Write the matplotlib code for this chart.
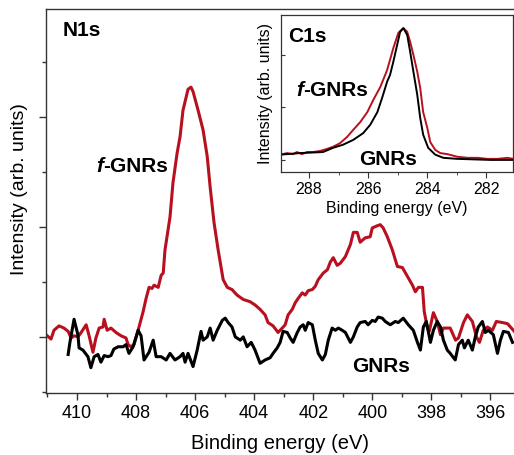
import matplotlib
matplotlib.use("Agg")
import matplotlib.pyplot as plt
from matplotlib.ticker import MultipleLocator

plt.rcParams['font.family'] = ['Liberation Sans', 'DejaVu Sans']

# N1s spectra (binding energy in eV, intensity in arb. units)
n1s_fgnr_ev = [411.05, 410.88, 410.78, 410.61, 410.44, 410.30, 410.20, 410.10, 409.97, 409.86,
               409.69, 409.59, 409.46, 409.36, 409.25, 409.12, 409.08, 408.98, 408.85, 408.68,
               408.51, 408.34, 408.27, 408.17, 408.07, 407.93, 407.76, 407.66, 407.56, 407.46,
               407.39, 407.25, 407.15, 407.08, 407.02, 406.85, 406.75, 406.61, 406.51, 406.41,
               406.24, 406.14, 406.07, 405.90, 405.73, 405.59, 405.49, 405.36, 405.22, 405.05,
               404.91, 404.75, 404.58, 404.37, 404.14, 403.97, 403.80, 403.63, 403.53, 403.36,
               403.19, 403.05, 402.95, 402.85, 402.71, 402.61, 402.51, 402.37, 402.27, 402.17,
               402.03, 401.93, 401.83, 401.66, 401.52, 401.42, 401.32, 401.19, 401.08, 400.91,
               400.74, 400.64, 400.51, 400.41, 400.24, 400.07, 400.00, 399.83, 399.73, 399.63,
               399.49, 399.32, 399.15, 398.98, 398.81, 398.64, 398.54, 398.44, 398.30, 398.24,
               398.14, 398.07, 397.93, 397.80, 397.69, 397.59, 397.36, 397.18, 397.08, 396.91,
               396.78, 396.61, 396.47, 396.37, 396.24, 396.10, 395.93, 395.80, 395.59, 395.42,
               395.19]
n1s_fgnr_int = [0.02, -0.02, 0.06, 0.10, 0.08, 0.05, -0.01, 0.01, 0.00, 0.04,
                0.11, 0.01, -0.14, -0.01, 0.08, 0.09, 0.16, 0.06, 0.08, 0.04,
                0.01, -0.01, -0.07, -0.09, -0.07, 0.06, 0.23, 0.35, 0.45, 0.44,
                0.47, 0.45, 0.56, 0.58, 0.79, 1.09, 1.40, 1.67, 1.82, 2.06,
                2.25, 2.27, 2.23, 2.06, 1.88, 1.64, 1.36, 1.04, 0.79, 0.52,
                0.45, 0.43, 0.38, 0.34, 0.32, 0.29, 0.25, 0.20, 0.13, 0.10,
                0.04, 0.08, 0.11, 0.20, 0.25, 0.31, 0.35, 0.40, 0.38, 0.42,
                0.43, 0.46, 0.52, 0.58, 0.61, 0.68, 0.72, 0.65, 0.67, 0.73,
                0.84, 0.95, 0.95, 0.86, 0.90, 0.91, 0.99, 1.01, 1.02, 0.99,
                0.91, 0.79, 0.64, 0.63, 0.55, 0.47, 0.41, 0.45, 0.45, 0.23,
                0.09, 0.05, 0.22, 0.14, 0.02, 0.08, 0.08, -0.03, -0.01, 0.13,
                0.20, 0.14, 0.00, -0.05, 0.06, 0.09, 0.06, 0.14, 0.13, 0.12,
                0.05]

n1s_gnr_ev = [410.30, 410.24, 410.10, 409.97, 409.93, 409.80, 409.63, 409.53, 409.42, 409.29,
              409.19, 409.08, 408.95, 408.85, 408.75, 408.61, 408.44, 408.34, 408.24, 408.10,
              407.93, 407.83, 407.73, 407.56, 407.42, 407.32, 407.15, 406.98, 406.85, 406.68,
              406.51, 406.41, 406.34, 406.24, 406.07, 405.93, 405.80, 405.73, 405.59, 405.49,
              405.39, 405.25, 405.08, 404.98, 404.88, 404.75, 404.64, 404.47, 404.37, 404.24,
              404.10, 403.97, 403.80, 403.63, 403.46, 403.36, 403.22, 403.12, 403.02, 402.88,
              402.78, 402.68, 402.54, 402.44, 402.34, 402.27, 402.17, 402.03, 401.93, 401.83,
              401.69, 401.59, 401.49, 401.36, 401.25, 401.15, 401.02, 400.91, 400.74, 400.64,
              400.51, 400.41, 400.24, 400.14, 400.00, 399.90, 399.80, 399.66, 399.56, 399.39,
              399.22, 399.12, 398.95, 398.78, 398.61, 398.47, 398.37, 398.27, 398.17, 398.03,
              397.93, 397.80, 397.69, 397.59, 397.46, 397.36, 397.19, 397.08, 396.95, 396.88,
              396.75, 396.61, 396.51, 396.41, 396.27, 396.17, 396.07, 395.90, 395.76, 395.66,
              395.56, 395.39, 395.25]
n1s_gnr_int = [-0.16, -0.05, 0.16, 0.02, -0.10, -0.12, -0.18, -0.28, -0.18, -0.16,
               -0.23, -0.17, -0.18, -0.17, -0.11, -0.09, -0.09, -0.07, -0.15, -0.09,
               0.06, 0.01, -0.21, -0.14, -0.03, -0.18, -0.18, -0.21, -0.15, -0.21,
               -0.18, -0.15, -0.23, -0.15, -0.27, -0.12, 0.05, -0.03, 0.00, 0.08,
               -0.03, 0.06, 0.15, 0.17, 0.13, 0.09, 0.00, -0.03, 0.00, -0.09,
               -0.05, -0.12, -0.24, -0.21, -0.19, -0.15, -0.10, -0.05, 0.05, 0.04,
               -0.01, -0.05, 0.04, 0.09, 0.11, 0.06, 0.13, 0.11, -0.03, -0.15,
               -0.21, -0.16, -0.03, 0.08, 0.06, 0.08, 0.06, 0.04, -0.05, 0.00,
               0.09, 0.13, 0.14, 0.11, 0.15, 0.14, 0.18, 0.17, 0.14, 0.11,
               0.14, 0.13, 0.17, 0.11, 0.06, -0.05, -0.12, 0.09, 0.14, -0.05,
               0.06, 0.14, 0.09, -0.03, -0.12, -0.15, -0.21, -0.07, -0.03, -0.10,
               -0.03, -0.12, 0.00, 0.09, 0.14, 0.04, 0.06, 0.02, -0.15, -0.03,
               0.05, 0.04, -0.05]

# C1s spectra (inset)
c1s_fgnr_ev = [288.98, 288.74, 288.54, 288.41, 288.24, 288.07, 287.86, 287.63, 287.39, 287.19,
               286.95, 286.71, 286.51, 286.27, 286.03, 285.83, 285.59, 285.36, 285.15, 284.98,
               284.81, 284.68, 284.58, 284.47, 284.34, 284.24, 284.14, 284.00, 283.90, 283.73,
               283.56, 283.32, 282.98, 282.64, 282.30, 281.97, 281.63, 281.29, 281.09]
c1s_fgnr_int = [0.10, 0.13, 0.11, 0.15, 0.11, 0.15, 0.15, 0.17, 0.21, 0.25,
                0.32, 0.44, 0.57, 0.72, 0.91, 1.14, 1.39, 1.71, 2.13, 2.42,
                2.51, 2.44, 2.25, 2.00, 1.68, 1.37, 0.91, 0.61, 0.34, 0.19,
                0.13, 0.11, 0.06, 0.04, 0.04, 0.02, 0.02, 0.04, 0.02]

c1s_gnr_ev = [288.98, 288.31, 287.53, 287.19, 286.85, 286.51, 286.17, 285.93, 285.69, 285.53,
              285.36, 285.26, 285.15, 285.02, 284.92, 284.81, 284.68, 284.58, 284.47, 284.34,
              284.24, 284.14, 283.97, 283.73, 283.46, 282.98, 281.86, 281.09]
c1s_gnr_int = [0.10, 0.13, 0.15, 0.23, 0.29, 0.38, 0.51, 0.67, 0.91, 1.18,
               1.49, 1.62, 1.87, 2.19, 2.44, 2.51, 2.38, 2.06, 1.68, 1.24,
               0.80, 0.48, 0.23, 0.10, 0.04, 0.02, 0.00, 0.00]

RED = '#b8101f'
SPINE = '#333333'
LABEL_FS = 15

fig = plt.figure(figsize=(5.14, 4.55), dpi=100)

# main N1s panel
ax = fig.add_axes([0.0895, 0.1363, 0.9105, 0.8439])
ax.plot(n1s_fgnr_ev, n1s_fgnr_int, color=RED, lw=2.2, solid_joinstyle='round')
ax.plot(n1s_gnr_ev, n1s_gnr_int, color='black', lw=2.2, solid_joinstyle='round')
ax.set_xlim(411.05, 395.2)
ax.set_ylim(-0.51, 2.98)
ax.xaxis.set_major_locator(MultipleLocator(2))
ax.xaxis.set_minor_locator(MultipleLocator(1))
ax.yaxis.set_major_locator(MultipleLocator(1))
ax.yaxis.set_minor_locator(MultipleLocator(0.5))
ax.set_yticklabels([])
ax.tick_params(which='major', direction='out', length=5, width=1, color=SPINE,
               labelsize=13, pad=4)
ax.tick_params(which='minor', direction='out', length=3, width=1, color=SPINE)
ax.spines['right'].set_visible(False)
for s in ['left', 'bottom', 'top']:
    ax.spines[s].set_color(SPINE)
    ax.spines[s].set_linewidth(1)
ax.set_xlabel('Binding energy (eV)', fontsize=14.5, labelpad=8)
ax.set_ylabel('Intensity (arb. units)', fontsize=14)
ax.yaxis.set_label_coords(-0.039, 0.53)

ax.text(0.036, 0.945, 'N1s', transform=ax.transAxes, fontsize=LABEL_FS,
        fontweight='bold', va='center')
t1 = ax.text(409.36, 1.55, 'f', fontsize=LABEL_FS, fontweight='bold',
             style='italic', va='center')
ax.annotate('-GNRs', xy=(1, 0.5), xycoords=t1, va='center', fontsize=LABEL_FS,
            fontweight='bold')
ax.text(399.69, -0.27, 'GNRs', fontsize=LABEL_FS, fontweight='bold', va='center',
        ha='center')

# inset C1s panel
ins = fig.add_axes([0.5467, 0.622, 0.4514, 0.345])
ins.plot(c1s_fgnr_ev, c1s_fgnr_int, color=RED, lw=1.4)
ins.plot(c1s_gnr_ev, c1s_gnr_int, color='black', lw=1.4)
ins.set_xlim(288.95, 281.1)
ins.set_ylim(-0.23, 2.76)
ins.xaxis.set_major_locator(MultipleLocator(2))
ins.xaxis.set_minor_locator(MultipleLocator(1))
ins.yaxis.set_major_locator(MultipleLocator(1))
ins.set_yticklabels([])
ins.tick_params(axis='x', which='major', direction='out', length=4, color=SPINE,
                labelsize=11.5, pad=3)
ins.tick_params(axis='x', which='minor', direction='out', length=2.5, color=SPINE)
ins.tick_params(axis='y', direction='in', length=3, color=SPINE)
for s in ins.spines.values():
    s.set_color(SPINE)
    s.set_linewidth(0.9)
ins.set_xlabel('Binding energy (eV)', fontsize=11.5, labelpad=3)
ins.set_ylabel('Intensity (arb. units)', fontsize=11.5, labelpad=2)
ins.text(0.03, 0.86, 'C1s', transform=ins.transAxes, fontsize=LABEL_FS,
         fontweight='bold', va='center')
t2 = ins.text(288.44, 1.33, 'f', fontsize=LABEL_FS, fontweight='bold',
              style='italic', va='center')
ins.annotate('-GNRs', xy=(1, 0.5), xycoords=t2, va='center', fontsize=LABEL_FS,
             fontweight='bold')
ins.text(285.34, 0.0, 'GNRs', fontsize=LABEL_FS, fontweight='bold', va='center',
         ha='center')

fig.savefig('out.png', dpi=100)
